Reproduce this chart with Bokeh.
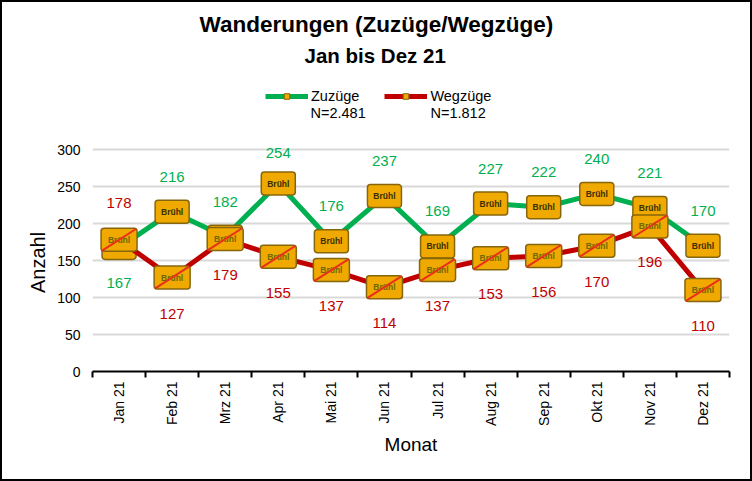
from bokeh.plotting import figure
from bokeh.embed import file_html
from bokeh.resources import INLINE
from bokeh.models import (Range1d, FixedTicker, Label, Legend, LegendItem,
                          ColumnDataSource, Title)
from bokeh.core.properties import value
import math

months = ["Jan 21", "Feb 21", "Mrz 21", "Apr 21", "Mai 21", "Jun 21",
          "Jul 21", "Aug 21", "Sep 21", "Okt 21", "Nov 21", "Dez 21"]
zuzuege = [167, 216, 182, 254, 176, 237, 169, 227, 222, 240, 221, 170]
wegzuege = [178, 127, 179, 155, 137, 114, 137, 153, 156, 170, 196, 110]
y_ticks = [0, 50, 100, 150, 200, 250, 300]
badge = "Brühl"

GREEN, RED = "#00b050", "#c00000"
ORANGE, EDGE = "#efa900", "#86660c"
FONT = "Liberation Sans"

xs = list(range(1, len(months) + 1))
z_above = [z >= w for z, w in zip(zuzuege, wegzuege)]
src = ColumnDataSource(dict(
    x=xs, z=zuzuege, w=wegzuege,
    zt=[str(v) for v in zuzuege], wt=[str(v) for v in wegzuege],
    zo=[(-31 if z > 250 else -35) if a else 35 for z, a in zip(zuzuege, z_above)],
    wo=[36 if a else -37 for a in z_above],
    badge=[badge] * len(xs),
))

# The frame reaches above 300 so that the legend can sit inside it.
p = figure(width=748, height=477, output_backend="svg", toolbar_location=None,
           x_range=Range1d(0.5, 12.5), y_range=Range1d(0, 400),
           min_border_left=90, min_border_right=25, min_border_top=73, min_border_bottom=112,
           background_fill_color="white", border_fill_color="white", outline_line_color=None)
p.margin = (0, 0, 0, 0)
p.styles = {"border": "2px solid black", "box-sizing": "content-box"}

p.title.text = "Wanderungen (Zuzüge/Wegzüge)"
p.title.text_font = FONT
p.title.text_font_size = "22.5px"
p.title.text_font_style = "bold"
p.title.align = "left"
p.title.offset = 107
p.title.text_color = "black"
p.title.standoff = -7
p.add_layout(Title(text="Jan bis Dez 21", text_font=FONT, text_font_size="20.5px",
                   text_font_style="bold", align="left", offset=212, text_color="black",
                   standoff=17), "above")

# axes
xa = p.xaxis[0]
xa.ticker = FixedTicker(ticks=xs, minor_ticks=[x - 0.5 for x in xs] + [xs[-1] + 0.5])
xa.major_label_overrides = {x: m for x, m in zip(xs, months)}
xa.major_label_orientation = math.pi / 2
xa.major_label_text_font = FONT
xa.major_label_text_font_size = "14px"
xa.major_label_text_color = "black"
xa.major_label_standoff = 4
xa.major_tick_line_color = None
xa.minor_tick_line_color = "black"
xa.minor_tick_line_width = 2
xa.minor_tick_out = 6
xa.minor_tick_in = 0
xa.axis_line_color = "black"
xa.axis_line_width = 2
xa.axis_label = "Monat"
xa.axis_label_text_font = FONT
xa.axis_label_text_font_size = "19px"
xa.axis_label_text_font_style = "normal"
xa.axis_label_text_color = "black"
xa.axis_label_standoff = 5

ya = p.yaxis[0]
ya.ticker = FixedTicker(ticks=y_ticks)
ya.axis_line_color = None
ya.major_tick_line_color = None
ya.minor_tick_line_color = None
ya.major_label_text_font = FONT
ya.major_label_text_font_size = "14px"
ya.major_label_text_color = "black"
ya.major_label_standoff = 6
# trailing no-break spaces keep the label centred on the 0-300 span, not on the taller frame
ya.axis_label = "Anzahl" + "\u00a0" * 14
ya.axis_label_text_font = FONT
ya.axis_label_text_font_size = "20px"
ya.axis_label_text_font_style = "normal"
ya.axis_label_text_color = "black"
ya.axis_label_standoff = 5

p.xgrid.visible = False
p.ygrid.ticker = FixedTicker(ticks=y_ticks)
p.ygrid.grid_line_color = "#d9d9d9"
p.ygrid.grid_line_width = 2


def badges(col, crossed):
    text_color = "#6f6a00" if crossed else "#3a3000"
    p.rect("x", col, source=src, width=36 if crossed else 34, height=23,
           width_units="screen", height_units="screen", fill_color=ORANGE,
           line_color=EDGE, line_width=1.5, border_radius=3)
    p.text("x", col, text="badge", source=src, text_font=value(FONT), text_font_size="8.5px",
           text_font_style="bold", text_color=text_color, text_align="center",
           text_baseline="middle")


# Zuzüge
z_line = p.line("x", "z", source=src, line_color=GREEN, line_width=5)
z_mark = p.scatter("x", "z", source=src, marker="square", size=8, fill_color=ORANGE, line_color=EDGE)
badges("z", False)

# Wegzüge
w_line = p.line("x", "w", source=src, line_color=RED, line_width=5)
w_mark = p.scatter("x", "w", source=src, marker="square", size=8, fill_color=ORANGE, line_color=EDGE)
badges("w", True)
p.rect("x", "w", source=src, width=41, height=2, width_units="screen", height_units="screen",
       angle=0.57, fill_color="#e8301c", line_color=None)

# value labels
p.text("x", "z", text="zt", source=src, y_offset="zo", text_font=value(FONT), text_font_size="15px",
       text_color=GREEN, text_align="center", text_baseline="middle")
p.text("x", "w", text="wt", source=src, y_offset="wo", text_font=value(FONT), text_font_size="15px",
       text_color=RED, text_align="center", text_baseline="middle")

legend = Legend(items=[LegendItem(label="Zuzüge", renderers=[z_line, z_mark]),
                       LegendItem(label="Wegzüge", renderers=[w_line, w_mark])],
                orientation="horizontal", location=(173, 267), spacing=25, padding=0, margin=0,
                glyph_width=43, glyph_height=14, label_standoff=3, label_text_font=FONT,
                label_text_font_size="14.5px", label_text_color="black",
                background_fill_alpha=0, border_line_color=None)
p.add_layout(legend, "center")

# x/y in "screen" units count from the frame's lower-left corner
for x, txt in ((218, "N=2.481"), (338, "N=1.812")):
    p.add_layout(Label(x=x, y=259, x_units="screen", y_units="screen", text=txt,
                       text_font=FONT, text_font_size="14.5px", text_color="black",
                       text_baseline="middle"))

open("out.html", "w").write(file_html(p, INLINE))
